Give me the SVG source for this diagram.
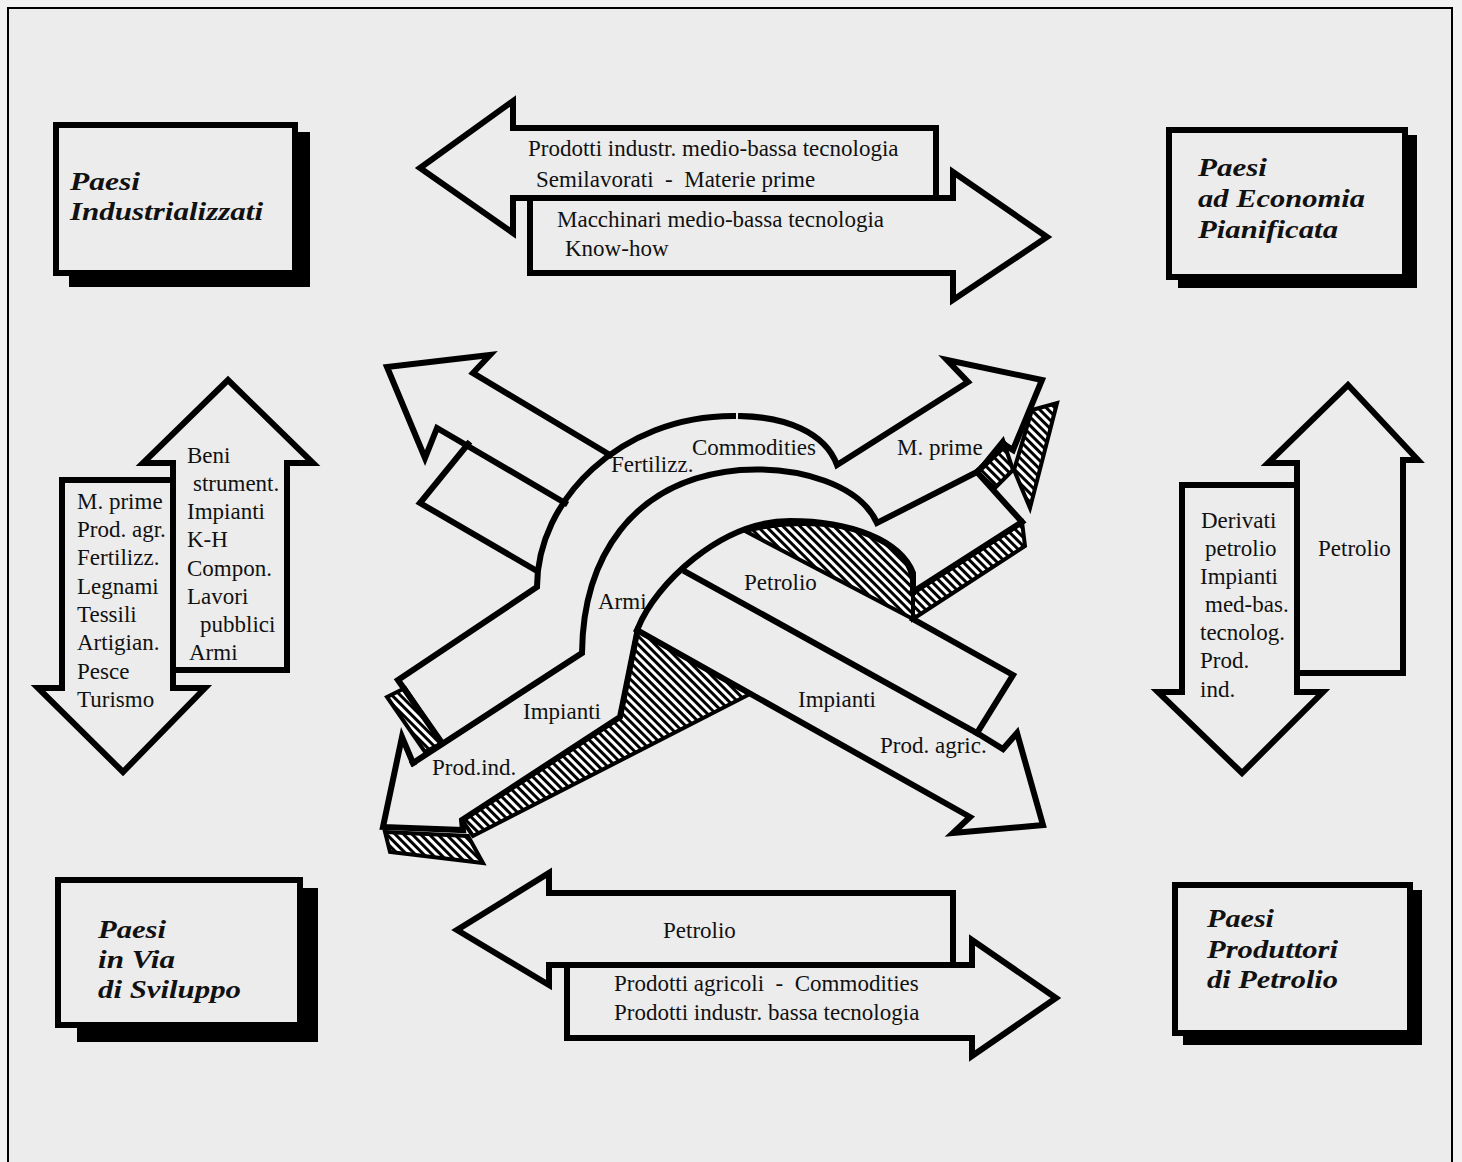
<svg xmlns="http://www.w3.org/2000/svg" width="1462" height="1162" viewBox="0 0 1462 1162">
<defs>
<pattern id="hatch" width="6" height="6" patternUnits="userSpaceOnUse" patternTransform="rotate(-45)">
<rect width="6" height="6" fill="#fff"/><rect width="3" height="6" fill="#000"/>
</pattern>
<style>
.s{fill:none;stroke:#000;stroke-width:6;stroke-linejoin:miter;stroke-miterlimit:4;stroke-linecap:square}
.a{fill:none;stroke:#000;stroke-width:6;stroke-linejoin:miter;stroke-miterlimit:4}
.box{fill:#ececec;stroke:#000;stroke-width:6}
.sh{fill:#000}
.hatch{fill:url(#hatch);stroke:#000;stroke-width:4;stroke-linejoin:miter}
.t{font-family:"Liberation Serif","Times New Roman",serif;font-size:23px;fill:#111}
.h{font-family:"Liberation Serif","Times New Roman",serif;font-size:26px;font-weight:bold;font-style:italic;fill:#111}
</style>
</defs>
<rect width="1462" height="1162" fill="#f2f2f2"/>
<rect x="8" y="8" width="1444" height="1170" fill="#ececec" stroke="#000" stroke-width="2"/>

<g id="node-industrializzati">
<rect class="sh" x="69" y="132" width="241" height="155"/>
<rect class="box" x="56" y="125" width="239" height="148"/>
<text class="h" x="70" y="190" textLength="70" lengthAdjust="spacingAndGlyphs">Paesi</text>
<text class="h" x="70" y="220" textLength="193" lengthAdjust="spacingAndGlyphs">Industrializzati</text>
</g>
<g id="node-pianificata">
<rect class="sh" x="1178" y="135" width="239" height="153"/>
<rect class="box" x="1169" y="130" width="236" height="147"/>
<text class="h" x="1198" y="176" textLength="69" lengthAdjust="spacingAndGlyphs">Paesi</text>
<text class="h" x="1198" y="207" textLength="167" lengthAdjust="spacingAndGlyphs">ad Economia</text>
<text class="h" x="1198" y="238" textLength="140" lengthAdjust="spacingAndGlyphs">Pianificata</text>
</g>
<g id="node-sviluppo">
<rect class="sh" x="77" y="888" width="241" height="154"/>
<rect class="box" x="58" y="880" width="242" height="145"/>
<text class="h" x="98" y="938" textLength="68" lengthAdjust="spacingAndGlyphs">Paesi</text>
<text class="h" x="98" y="968" textLength="77" lengthAdjust="spacingAndGlyphs">in Via</text>
<text class="h" x="98" y="998" textLength="143" lengthAdjust="spacingAndGlyphs">di Sviluppo</text>
</g>
<g id="node-produttori">
<rect class="sh" x="1183" y="890" width="239" height="155"/>
<rect class="box" x="1175" y="885" width="235" height="148"/>
<text class="h" x="1207" y="927" textLength="67" lengthAdjust="spacingAndGlyphs">Paesi</text>
<text class="h" x="1207" y="958" textLength="131" lengthAdjust="spacingAndGlyphs">Produttori</text>
<text class="h" x="1207" y="988" textLength="131" lengthAdjust="spacingAndGlyphs">di Petrolio</text>
</g>

<g id="connectors">
<g id="flow-top">
<path class="a" d="M936,198 L936,128 L513,128 L513,101 L420,168 L513,233 L513,198 L953,198 L953,172 L1047,237 L953,300 L953,273 L530,273 L530,200"/>
<text class="t" x="528" y="156">Prodotti industr. medio-bassa tecnologia</text>
<text class="t" x="536" y="187" xml:space="preserve">Semilavorati  -  Materie prime</text>
<text class="t" x="557" y="227">Macchinari medio-bassa tecnologia</text>
<text class="t" x="565" y="256">Know-how</text>
</g>
<g id="flow-bottom">
<path class="a" d="M953,965 L953,893 L549,893 L549,873 L457,930 L549,985 L549,965 L972,965 L972,940 L1056,998 L972,1056 L972,1038 L567,1038 L567,967"/>
<text class="t" x="663" y="938">Petrolio</text>
<text class="t" x="614" y="991" xml:space="preserve">Prodotti agricoli  -  Commodities</text>
<text class="t" x="614" y="1020">Prodotti industr. bassa tecnologia</text>
</g>
<g id="flow-left">
<path class="a" d="M173,670 L173,463 L143,463 L228,380 L313,463 L287,463 L287,670 Z"/>
<path class="a" d="M173,480 L62,480 L62,688 L38,688 L123,772 L205,688 L173,688 Z"/>
<text class="t" x="77" y="509">M. prime</text>
<text class="t" x="77" y="537">Prod. agr.</text>
<text class="t" x="77" y="565">Fertilizz.</text>
<text class="t" x="77" y="594">Legnami</text>
<text class="t" x="77" y="622">Tessili</text>
<text class="t" x="77" y="650">Artigian.</text>
<text class="t" x="77" y="679">Pesce</text>
<text class="t" x="77" y="707">Turismo</text>
<text class="t" x="187" y="463">Beni</text>
<text class="t" x="193" y="491">strument.</text>
<text class="t" x="187" y="519">Impianti</text>
<text class="t" x="187" y="547">K-H</text>
<text class="t" x="187" y="576">Compon.</text>
<text class="t" x="187" y="604">Lavori</text>
<text class="t" x="200" y="632">pubblici</text>
<text class="t" x="189" y="660">Armi</text>
</g>
<g id="flow-right">
<path class="a" d="M1297,673 L1297,463 L1268,463 L1348,385 L1418,460 L1403,460 L1403,673 Z"/>
<path class="a" d="M1297,485 L1182,485 L1182,692 L1158,692 L1242,773 L1323,692 L1297,692 Z"/>
<text class="t" x="1201" y="528">Derivati</text>
<text class="t" x="1205" y="556">petrolio</text>
<text class="t" x="1200" y="584">Impianti</text>
<text class="t" x="1205" y="612">med-bas.</text>
<text class="t" x="1200" y="640">tecnolog.</text>
<text class="t" x="1200" y="668">Prod.</text>
<text class="t" x="1200" y="697">ind.</text>
<text class="t" x="1318" y="556">Petrolio</text>
</g>
<g id="flow-center">
<path class="hatch" d="M745,531 C790,520 850,521 887,543 C905,556 913,570 913,592 L913,619 Z"/>
<path class="hatch" d="M913,592 L1022,522 L1025,546 L913,619 Z"/>
<path class="hatch" d="M637,630 L750,694 L473,836 L462,820 L620,717 Z"/>
<path class="hatch" d="M387,697 L405,688 L442,743 L425,752 Z"/>
<path class="hatch" d="M385,832 L468,836 L483,863 L390,852 Z"/>
<path class="hatch" d="M1032,410 L1057,403 L1030,508 L1014,470 Z"/>
<path class="hatch" d="M977,472 L1003,440 L1013,470 L995,488 Z"/>
<path class="s" d="M565,503 L437,428 L425,458 L387,367 L490,355 L473,373 L610,455"/>
<path class="s" d="M468,444 L420,503 L537,571"/>
<path class="s" d="M442,743 L398,680 L537,587 C537,500 620,416 733,416"/>
<path class="s" d="M741,416 C785,417 825,432 837,465 L968,382 L947,360 L1042,380 L1013,450 L1005,445"/>
<path class="s" d="M413,763 L582,653 C583,560 630,480 740,470 C800,466 860,485 877,523 L977,472 L1005,445"/>
<path class="s" d="M977,472 L1022,522 L913,592"/>
<path class="s" d="M913,592 L913,573 C900,540 850,521 790,521 C720,521 655,585 638,628 L620,717 L462,820 L463,830 L383,827 L402,737 L413,763"/>
<path class="s" d="M686,572 L977,733 L1003,749 L1017,733 L1043,825 L953,833 L970,817 L637,630"/>
<path class="s" d="M913,619 L1013,675 L977,733"/>
<text class="t" x="692" y="455">Commodities</text>
<text class="t" x="611" y="472">Fertilizz.</text>
<text class="t" x="897" y="455">M. prime</text>
<text class="t" x="744" y="590">Petrolio</text>
<text class="t" x="598" y="609">Armi</text>
<text class="t" x="798" y="707">Impianti</text>
<text class="t" x="523" y="719">Impianti</text>
<text class="t" x="432" y="775">Prod.ind.</text>
<text class="t" x="880" y="753">Prod. agric.</text>
</g>
</g>
</svg>
